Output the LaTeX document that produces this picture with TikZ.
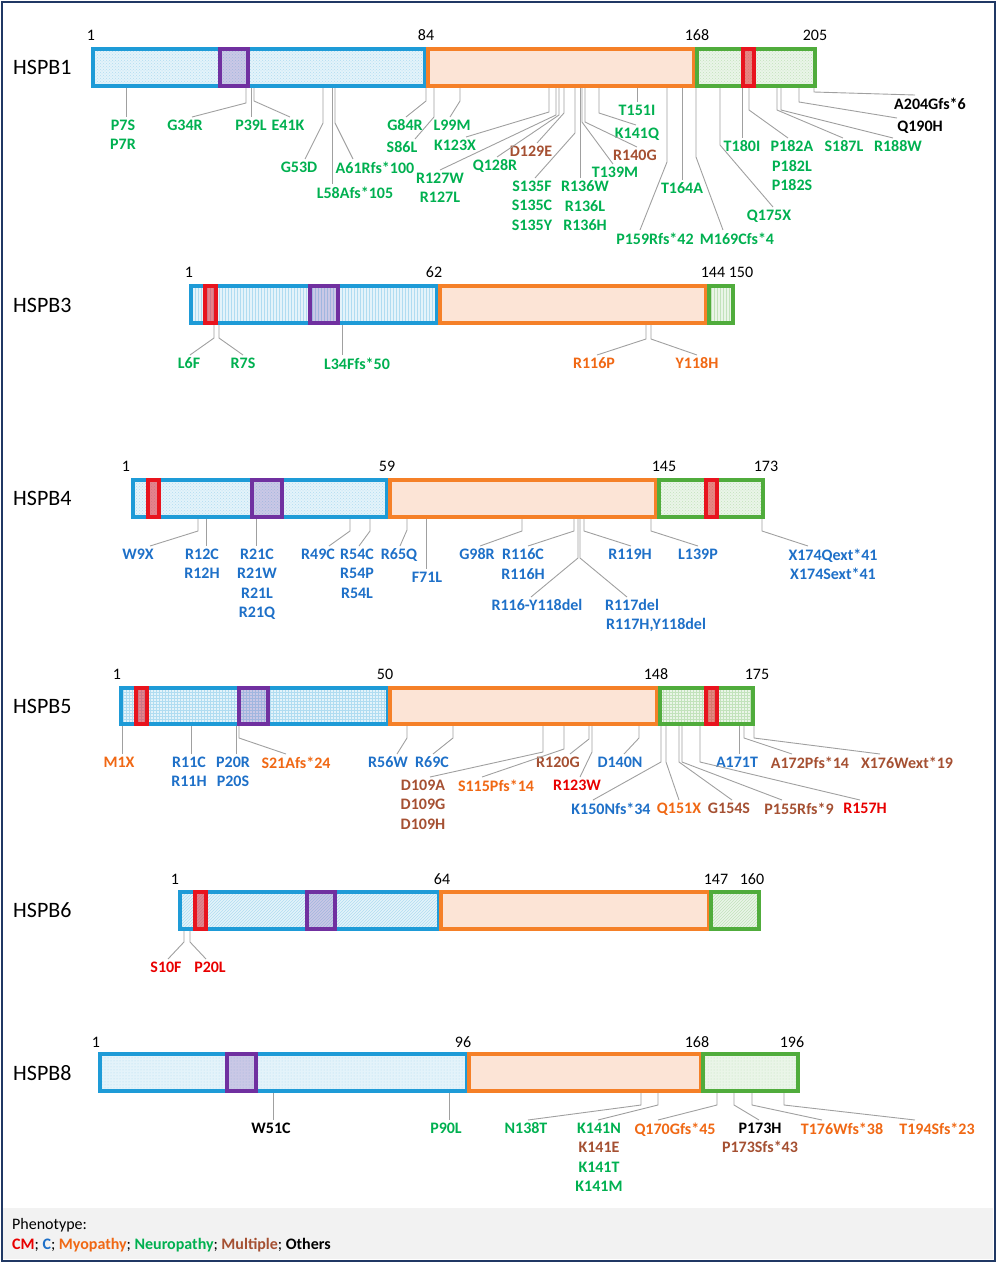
\documentclass[tikz,border=0pt]{standalone}
\usepackage{fontspec}
\setmainfont{Carlito}
\usetikzlibrary{patterns}

\definecolor{cBlue}{RGB}{30,155,215}
\definecolor{cOrange}{RGB}{245,128,40}
\definecolor{cOrangeL}{RGB}{252,228,214}
\definecolor{cGreen}{RGB}{80,172,60}
\definecolor{cPurple}{RGB}{112,48,160}
\definecolor{cRed}{RGB}{232,20,30}
\definecolor{cGray}{RGB}{160,160,160}
\definecolor{cFrame}{RGB}{32,56,100}
\definecolor{cLegend}{RGB}{242,242,242}
% phenotype colours
\definecolor{tCM}{RGB}{232,0,0}
\definecolor{tC}{RGB}{30,112,200}
\definecolor{tMyo}{RGB}{240,104,20}
\definecolor{tNeu}{RGB}{0,176,80}
\definecolor{tMul}{RGB}{165,80,50}

\tikzset{
  conn/.style={draw=cGray, line width=0.9pt},
  lbl/.style={anchor=north, yshift=8pt, inner xsep=1pt, inner ysep=2.5pt, align=center,
    font=\fontsize{16}{19.5}\selectfont\bfseries},
  cardio/.style={lbl, text=tCM},
  cdis/.style={lbl, text=tC},
  myo/.style={lbl, text=tMyo},
  neu/.style={lbl, text=tNeu},
  mul/.style={lbl, text=tMul},
  oth/.style={lbl, text=black},
  num/.style={inner sep=0pt, font=\fontsize{16}{19}\selectfont},
  prot/.style={anchor=west, inner sep=0pt, font=\fontsize{22}{26}\selectfont},
  ndom/.style={draw=cBlue, line width=3.2pt, preaction={fill=cBlue!12},
    preaction={pattern=#1, pattern color=cBlue!35}},
  acd/.style={draw=cOrange, line width=3.2pt, fill=cOrangeL},
  cdom/.style={draw=cGreen, line width=3.2pt, preaction={fill=cGreen!12},
    preaction={pattern=#1, pattern color=cGreen!35}},
  ipv/.style={draw=cPurple, line width=3.2pt, fill=cPurple, fill opacity=0.22},
  motif/.style={draw=cRed, line width=3.2pt, fill=cRed, fill opacity=0.5},
}

\begin{document}
\begin{tikzpicture}[x=1pt, y=-1pt]
  \useasboundingbox (0,0) rectangle (996,1262);
  % legend background
  \fill[cLegend] (3,1208) rectangle (993,1259);

  % ---------------- HSPB1 ----------------
  \node[prot] (hspb1) at (13,67) {HSPB1};
  \node[num] (b1s1) at (91,35) {1};
  \node[num] (b1s84) at (426,35) {84};
  \node[num] (b1s168) at (697,35) {168};
  \node[num] (b1s205) at (815,35) {205};
  \node[neu] (b1p7s) at (123,125) {P7S\\P7R};
  \node[neu] (b1g34r) at (185,125) {G34R};
  \node[neu] (b1p39l) at (251,125) {P39L};
  \node[neu] (b1e41k) at (288,125) {E41K};
  \node[neu] (b1g53d) at (299,167) {G53D};
  \node[neu] (b1l58a) at (355,192) {L58Afs*105};
  \node[neu] (b1a61r) at (375,167) {A61Rfs*100};
  \node[neu] (b1g84r) at (405,125) {G84R};
  \node[neu] (b1s86l) at (402,147) {S86L};
  \node[neu] (b1l99m) at (452,125) {L99M};
  \node[neu] (b1k123x) at (455,145) {K123X};
  \node[neu] (b1r127w) at (440,178) {R127W\\R127L};
  \node[neu] (b1q128r) at (495,165) {Q128R};
  \node[mul] (b1d129e) at (531,151) {D129E};
  \node[neu] (b1s135f) at (532,186) {S135F\\S135C\\S135Y};
  \node[neu] (b1r136w) at (585,186) {R136W\\R136L\\R136H};
  \node[neu] (b1t139m) at (615,172) {T139M};
  \node[mul] (b1r140g) at (635,155) {R140G};
  \node[neu] (b1k141q) at (637,133) {K141Q};
  \node[neu] (b1t151i) at (637,110) {T151I};
  \node[neu] (b1p159r) at (655,238) {P159Rfs*42};
  \node[neu] (b1t164a) at (682,188) {T164A};
  \node[neu] (b1m169c) at (737,238) {M169Cfs*4};
  \node[neu] (b1q175x) at (769,215) {Q175X};
  \node[neu] (b1t180i) at (742,146) {T180I};
  \node[neu] (b1p182a) at (792,146) {P182A\\P182L\\P182S};
  \node[neu] (b1s187l) at (844,146) {S187L};
  \node[neu] (b1r188w) at (898,146) {R188W};
  \node[oth] (b1q190h) at (920,126) {Q190H};
  \node[oth] (b1a204g) at (930,103) {A204Gfs*6};
  \foreach \n/\xb/\ye/\dx in {p7s/126/117/3, g34r/246/103/7, p39l/251/117/0,
      e41k/254/101/2, g53d/323/123/6, l58a/332/184/-23, a61r/335/123/-22,
      g84r/426/101/1, s86l/434/117/13, l99m/460/101/-2, k123x/549/112/11,
      r127w/556/115/0, q128r/559/115/2, d129e/564/113/6, s135f/575/133/3,
      r136w/580/178/-5, t139m/582/122/-2, r140g/585/122/2, k141q/599/113/-1,
      t151i/637/102/0, p159r/667/162/-15, t164a/682/180/0, m169c/696/157/-14,
      q175x/720/145/4, t180i/742/138/0, p182a/749/110/-4, s187l/777/110/-1,
      r188w/781/110/-5, q190h/799/102/-23, a204g/814/92/-15} {
    \coordinate (b1\n-b) at (\xb,87);
    \draw[conn] (b1\n-b) -- (\xb,\ye) -- ([xshift=\dx pt]b1\n.north);
  }
  \draw[ndom=crosshatch dots] (93,49) rectangle (425,86);
  \draw[acd] (428,49) rectangle (694,86);
  \draw[cdom=crosshatch dots] (697,49) rectangle (815,86);
  \draw[ipv] (220,49) rectangle (248,86);
  \draw[motif] (743,49) rectangle (754,86);

  % ---------------- HSPB3 ----------------
  \node[prot] (hspb3) at (13,305) {HSPB3};
  \node[num] (b3s1) at (189,272) {1};
  \node[num] (b3s62) at (434,272) {62};
  \node[num] (b3s144) at (713,272) {144};
  \node[num] (b3s150) at (741,272) {150};
  \node[neu] (b3l6f) at (189,363) {L6F};
  \node[neu] (b3r7s) at (243,363) {R7S};
  \node[neu] (b3l34f) at (357,363) {L34Ffs*50};
  \node[myo] (b3r116p) at (594,363) {R116P};
  \node[myo] (b3y118h) at (697,363) {Y118H};
  \foreach \n/\xb/\ye/\dx in {l6f/214/338/1, r7s/219/338/0, l34f/342/355/-15,
      r116p/646/339/3, y118h/651/339/0} {
    \coordinate (b3\n-b) at (\xb,324);
    \draw[conn] (b3\n-b) -- (\xb,\ye) -- ([xshift=\dx pt]b3\n.north);
  }
  \draw[ndom=vertical lines] (191,286) rectangle (437,323);
  \draw[acd] (440,286) rectangle (706,323);
  \draw[cdom=vertical lines] (709,286) rectangle (733,323);
  \draw[motif] (205,286) rectangle (216,323);
  \draw[ipv] (310,286) rectangle (338,323);

  % ---------------- HSPB4 ----------------
  \node[prot] (hspb4) at (13,498) {HSPB4};
  \node[num] (b4s1) at (126,466) {1};
  \node[num] (b4s59) at (387,466) {59};
  \node[num] (b4s145) at (664,466) {145};
  \node[num] (b4s173) at (766,466) {173};
  \node[cdis] (b4w9x) at (138,554) {W9X};
  \node[cdis] (b4r12c) at (202,554) {R12C\\R12H};
  \node[cdis] (b4r21c) at (257,554) {R21C\\R21W\\R21L\\R21Q};
  \node[cdis] (b4r49c) at (318,554) {R49C};
  \node[cdis] (b4r54c) at (357,554) {R54C\\R54P\\R54L};
  \node[cdis] (b4r65q) at (399,554) {R65Q};
  \node[cdis] (b4f71l) at (427,577) {F71L};
  \node[cdis] (b4g98r) at (477,554) {G98R};
  \node[cdis] (b4r116c) at (523,554) {R116C\\R116H};
  \node[cdis] (b4r116d) at (537,605) {R116-Y118del};
  \node[cdis] (b4r117d) at (632,605) {R117del};
  \node[cdis] (b4r117h) at (656,624) {R117H,Y118del};
  \node[cdis] (b4r119h) at (630,554) {R119H};
  \node[cdis] (b4l139p) at (698,554) {L139P};
  \node[cdis] (b4x174q) at (833,554) {X174Qext*41\\X174Sext*41};
  \foreach \n/\xb/\ye/\dx in {w9x/198/531/12, r12c/206/546/4, r21c/256/546/-1,
      r49c/350/531/11, r54c/370/531/2, r65q/407/530/1, f71l/426/569/-1,
      g98r/522/531/3, r116c/574/531/5, r116d/578/558/-6, r117d/580/558/-5,
      r119h/584/531/1, l139p/651/531/0, x174q/762/531/-25} {
    \coordinate (b4\n-b) at (\xb,518);
    \draw[conn] (b4\n-b) -- (\xb,\ye) -- ([xshift=\dx pt]b4\n.north);
  }
  \draw[ndom=crosshatch dots] (133,480) rectangle (387,517);
  \draw[acd] (390,480) rectangle (656,517);
  \draw[cdom=crosshatch dots] (659,480) rectangle (763,517);
  \draw[motif] (148,480) rectangle (159,517);
  \draw[ipv] (252,480) rectangle (282,517);
  \draw[motif] (706,480) rectangle (717,517);

  % ---------------- HSPB5 ----------------
  \node[prot] (hspb5) at (13,706) {HSPB5};
  \node[num] (b5s1) at (117,674) {1};
  \node[num] (b5s50) at (385,674) {50};
  \node[num] (b5s148) at (656,674) {148};
  \node[num] (b5s175) at (757,674) {175};
  \node[myo] (b5m1x) at (119,762) {M1X};
  \node[cdis] (b5r11c) at (189,762) {R11C\\R11H};
  \node[cdis] (b5p20r) at (233,762) {P20R\\P20S};
  \node[myo] (b5s21a) at (296,762) {S21Afs*24};
  \node[cdis] (b5r56w) at (388,762) {R56W};
  \node[cdis] (b5r69c) at (432,762) {R69C};
  \node[mul] (b5d109a) at (423,785) {D109A\\D109G\\D109H};
  \node[myo] (b5s115p) at (496,785) {S115Pfs*14};
  \node[mul] (b5r120g) at (558,762) {R120G};
  \node[cardio] (b5r123w) at (577,785) {R123W};
  \node[cdis] (b5d140n) at (620,762) {D140N};
  \node[cdis] (b5k150n) at (611,808) {K150Nfs*34};
  \node[myo] (b5q151x) at (679,808) {Q151X};
  \node[mul] (b5g154s) at (729,808) {G154S};
  \node[mul] (b5p155r) at (799,808) {P155Rfs*9};
  \node[cardio] (b5r157h) at (865,808) {R157H};
  \node[cdis] (b5a171t) at (737,762) {A171T};
  \node[mul] (b5a172p) at (810,762) {A172Pfs*14};
  \node[mul] (b5x176w) at (907,762) {X176Wext*19};
  \foreach \n/\xb/\ye/\dx in {m1x/122/754/3, r11c/191/754/2, p20r/236/754/3,
      s21a/239/738/-10, r56w/407/738/9, r69c/453/738/1, d109a/543/752/7,
      s115p/564/749/-14, r120g/589/739/12, r123w/592/752/3, d140n/639/738/4,
      k150n/661/762/-18, q151x/666/762/0, g154s/679/762/3, p155r/682/762/-17,
      r157h/700/762/-5, a171t/739/754/2, a172p/744/738/-18, x176w/754/738/-27} {
    \coordinate (b5\n-b) at (\xb,725);
    \draw[conn] (b5\n-b) -- (\xb,\ye) -- ([xshift=\dx pt]b5\n.north);
  }
  \draw[ndom=grid] (121,688) rectangle (388,724);
  \draw[acd] (390,688) rectangle (657,724);
  \draw[cdom=grid] (660,688) rectangle (753,724);
  \draw[motif] (136,688) rectangle (147,724);
  \draw[ipv] (239,688) rectangle (268,724);
  \draw[motif] (706,688) rectangle (717,724);

  % ---------------- HSPB6 ----------------
  \node[prot] (hspb6) at (13,910) {HSPB6};
  \node[num] (b6s1) at (175,879) {1};
  \node[num] (b6s64) at (442,879) {64};
  \node[num] (b6s147) at (716,879) {147};
  \node[num] (b6s160) at (752,879) {160};
  \node[cardio] (b6s10f) at (166,967) {S10F};
  \node[cardio] (b6p20l) at (210,967) {P20L};
  \foreach \n/\xb/\ye/\dx in {s10f/184/942/2, p20l/190/942/-4} {
    \coordinate (b6\n-b) at (\xb,930);
    \draw[conn] (b6\n-b) -- (\xb,\ye) -- ([xshift=\dx pt]b6\n.north);
  }
  \draw[ndom=north east lines] (180,892) rectangle (439,929);
  \draw[acd] (441,892) rectangle (709,929);
  \draw[cdom=north east lines] (711,892) rectangle (759,929);
  \draw[motif] (195,892) rectangle (206,929);
  \draw[ipv] (307,892) rectangle (335,929);

  % ---------------- HSPB8 ----------------
  \node[prot] (hspb8) at (13,1073) {HSPB8};
  \node[num] (b8s1) at (96,1042) {1};
  \node[num] (b8s96) at (463,1042) {96};
  \node[num] (b8s168) at (697,1042) {168};
  \node[num] (b8s196) at (792,1042) {196};
  \node[oth] (b8w51c) at (271,1128) {W51C};
  \node[neu] (b8p90l) at (446,1128) {P90L};
  \node[neu] (b8n138t) at (526,1128) {N138T};
  \node[neu] (b8k141n) at (599,1128) {K141N\\\textcolor{tMul}{K141E}\\K141T\\K141M};
  \node[myo] (b8q170g) at (675,1128) {Q170Gfs*45};
  \node[oth] (b8p173h) at (760,1128) {P173H\\\textcolor{tMul}{P173Sfs*43}};
  \node[myo] (b8t176w) at (842,1128) {T176Wfs*38};
  \node[myo] (b8t194s) at (937,1128) {T194Sfs*23};
  \foreach \n/\xb/\ye/\dx in {w51c/273/1120/2, p90l/449/1120/3, n138t/641/1105/2,
      k141n/658/1105/-1, q170g/717/1105/-17, p173h/734/1105/-1,
      t176w/752/1105/-20, t194s/784/1105/-22} {
    \coordinate (b8\n-b) at (\xb,1092);
    \draw[conn] (b8\n-b) -- (\xb,\ye) -- ([xshift=\dx pt]b8\n.north);
  }
  \draw[ndom=dots] (100,1054) rectangle (467,1091);
  \draw[acd] (469,1054) rectangle (701,1091);
  \draw[cdom=dots] (703,1054) rectangle (798,1091);
  \draw[ipv] (227,1054) rectangle (256,1091);

  % ---------------- legend ----------------
  \node[num, anchor=west] (leg1) at (12,1225) {Phenotype:};
  \node[num, anchor=west] (leg2) at (12,1245) {\textbf{\textcolor{tCM}{CM}}; \textbf{\textcolor{tC}{C}};
    \textbf{\textcolor{tMyo}{Myopathy}}; \textbf{\textcolor{tNeu}{Neuropathy}};
    \textbf{\textcolor{tMul}{Multiple}}; \textbf{Others}};

  % frame
  \draw[cFrame, line width=2pt] (1.5,1.5) rectangle (994.5,1260.5);
\end{tikzpicture}
\end{document}
